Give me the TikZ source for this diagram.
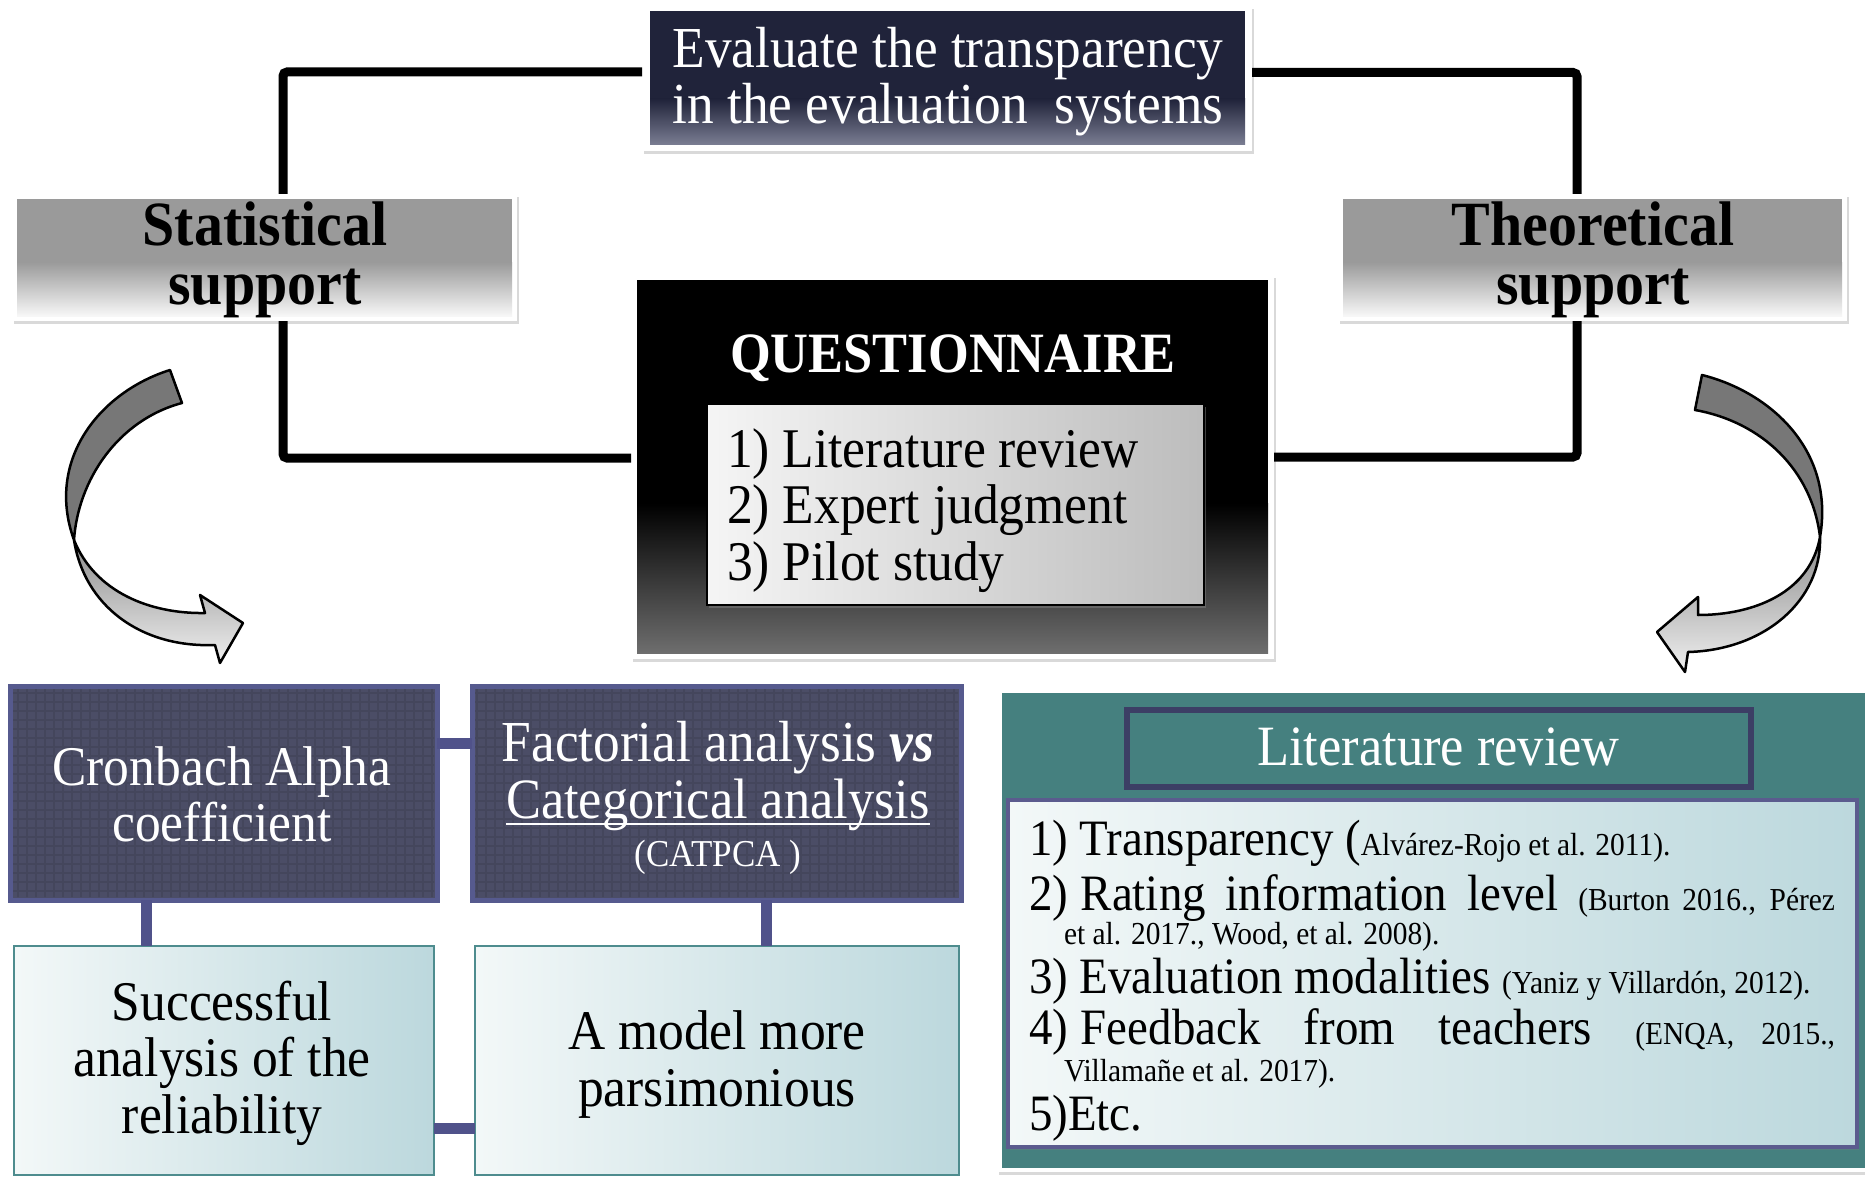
\documentclass[tikz,border=0pt]{standalone}
\usepackage{fontspec}
\setmainfont{Liberation Serif}[FakeStretch=0.92]
\usetikzlibrary{shadows}
\definecolor{evtop}{HTML}{20233A}
\definecolor{evbot}{HTML}{7B7E93}
\definecolor{statgray}{HTML}{9A9A9A}
\definecolor{slate}{HTML}{4B4D66}
\definecolor{slateborder}{HTML}{565A8E}
\definecolor{barc}{HTML}{50528A}
\definecolor{lightL}{HTML}{F3F8F8}
\definecolor{lightR}{HTML}{BCD8DD}
\definecolor{tealb}{HTML}{4E8C8E}
\definecolor{panelteal}{HTML}{45807F}
\definecolor{titleb}{HTML}{3C3E65}
\definecolor{listb}{HTML}{5B5B8E}
\definecolor{arrdark}{HTML}{777777}
\newcommand\fsz[2]{\fontsize{#1}{#2}\selectfont}
\newcommand\ctn[1]{{\fsz{32}{32}#1}}
\newcommand\mainf{\fsz{51}{51}}
\newcommand\fixsp{\hskip 0.25em\relax}
\begin{document}
\begin{tikzpicture}[x=1pt,y=-1pt,
  frame/.style={fill=white, inner sep=0pt, outer sep=0pt,
    drop shadow={shadow xshift=2pt, shadow yshift=-3pt, opacity=0.3}},
  conn/.style={line width=9pt, rounded corners=4pt},
  bar/.style={barc, line width=11pt},
  txt/.style={inner sep=0pt, outer sep=0pt},
  wtxt/.style={txt, text=white},
  darkbox/.style={fill=slate, draw=slateborder, line width=5pt, inner sep=0pt, outer sep=0pt,
    drop shadow={shadow xshift=2pt, shadow yshift=-3pt, opacity=0.3}},
  lightbox/.style={left color=lightL, right color=lightR, draw=tealb, line width=2pt, inner sep=0pt, outer sep=0pt},
  arrowline/.style={draw=black, line width=2.5pt, line join=round}
]
\useasboundingbox (0,0) rectangle (1865,1177);

% ---------- top box ----------
\node[frame, minimum width=610pt, minimum height=145pt] (ev) at (947,78.5) {};
\fill[evtop] (650,11) rectangle (1245,100);
\shade[top color=evtop, bottom color=evbot] (650,99) rectangle (1245,145);
\node[wtxt, anchor=base] (ev1) at (948,68) {\fsz{58}{58}Evaluate the transparency};
\node[wtxt, anchor=base] (ev2) at (948,124) {\fsz{58}{58}in the evaluation\ \ systems};

% ---------- statistical ----------
\node[frame, minimum width=505pt, minimum height=127pt] (stat) at (264.5,257.5) {};
\fill[statgray] (17,199) rectangle (512,263);
\shade[top color=statgray, bottom color=white!97!black] (17,262) rectangle (512,316);
\node[txt, anchor=base] (st1) at (265,245) {\fsz{63}{63}\bfseries Statistical};
\node[txt, anchor=base] (st2) at (265,304) {\fsz{63}{63}\bfseries support};

% ---------- theoretical ----------
\node[frame, minimum width=509pt, minimum height=127pt] (theo) at (1592.5,257.5) {};
\fill[statgray] (1343,199) rectangle (1842,263);
\shade[top color=statgray, bottom color=white!97!black] (1343,262) rectangle (1842,316);
\node[txt, anchor=base] (th1) at (1593,245) {\fsz{63}{63}\bfseries Theoretical};
\node[txt, anchor=base] (th2) at (1593,304) {\fsz{63}{63}\bfseries support};

% ---------- questionnaire ----------
\node[frame, minimum width=643pt, minimum height=384pt] (ques) at (952.5,467) {};
\fill[black] (637,280) rectangle (1268,504);
\shade[top color=black, bottom color=black!57] (637,503) rectangle (1268,653);
\node[wtxt, anchor=base] (qt) at (953,372) {\fsz{57}{57}\bfseries QUESTIONNAIRE};
\node[draw=black, line width=1.2pt, left color=white!96!black, right color=black!26,
  minimum width=497pt, minimum height=201pt, inner sep=0pt, outer sep=0pt,
  drop shadow={shadow xshift=2pt, shadow yshift=-3pt, opacity=0.5}] (qlist) at (955.5,504.5) {};
\node[txt, anchor=base west] (q1) at (727,467) {\fsz{56}{56}1) Literature review};
\node[txt, anchor=base west] (q2) at (727,523) {\fsz{56}{56}2) Expert judgment};
\node[txt, anchor=base west] (q3) at (727,580) {\fsz{56}{56}3) Pilot study};

% ---------- black connectors ----------
\draw[conn] ([yshift=6.5pt]ev.west) -| ([xshift=18.5pt]stat.north);
\draw[conn] ([xshift=18.5pt]stat.south) |- ([yshift=9pt]ques.west);
\draw[conn] ([yshift=6pt]ev.east) -| ([xshift=-15.5pt]theo.north);
\draw[conn] ([xshift=-15.5pt]theo.south) |- ([yshift=10pt]ques.east);

% ---------- curved arrows ----------
\filldraw[arrowline, fill=arrdark] (170,370) .. controls (100,392) and (45,460) .. (74,540)
  .. controls (78,480) and (118,420) .. (182,403) -- cycle;
\filldraw[arrowline, top color=black!45, bottom color=white!94!black] (74,540)
  .. controls (95,592) and (150,614) .. (205,613) -- (200,595) -- (243,623) -- (220,663) -- (215,645)
  .. controls (140,648) and (84,605) .. (74,540) -- cycle;
\filldraw[arrowline, fill=arrdark] (1702,375) .. controls (1770,392) and (1835,450) .. (1820,537)
  .. controls (1812,470) and (1762,422) .. (1695,410) -- cycle;
\filldraw[arrowline, top color=black!45, bottom color=white!94!black] (1820,537)
  .. controls (1810,592) and (1755,615) .. (1698,615) -- (1698,597) -- (1657,632) -- (1685,672) -- (1688,652)
  .. controls (1765,650) and (1822,600) .. (1820,537) -- cycle;

% ---------- bottom left boxes ----------
\node[darkbox, minimum width=427pt, minimum height=214pt] (cron) at (223.5,793) {};
\node[darkbox, minimum width=489pt, minimum height=214pt] (fact) at (716.5,793) {};
\begin{scope}
  \clip (13,689) rectangle (434,897) (475,689) rectangle (958,897);
  \draw[black, opacity=0.09, line width=2pt, step=9pt] (0,680) grid (970,905);
\end{scope}
\node[wtxt, anchor=base] (cr1) at (222,785) {\fsz{56}{56}Cronbach Alpha};
\node[wtxt, anchor=base] (cr2) at (222,841) {\fsz{56}{56}coefficient};
\node[wtxt, anchor=base] (fa1) at (718,761) {\fsz{58}{58}Factorial analysis \textbf{\textit{vs}}};
\node[wtxt, anchor=base] (fa2) at (718,818) {\fsz{57}{57}Categorical analysis};
\draw[white, line width=2.5pt] ([yshift=-6pt]fa2.base west) -- ([yshift=-6pt]fa2.base east);
\node[wtxt, anchor=base] (fa3) at (718,866) {\fsz{38}{38}(CATPCA )};

\node[lightbox, minimum width=420pt, minimum height=229pt] (succ) at (223.5,1060.5) {};
\node[lightbox, minimum width=484pt, minimum height=229pt] (model) at (716.5,1060.5) {};
\node[txt, anchor=base] (su1) at (222,1020) {\fsz{56}{56}Successful};
\node[txt, anchor=base] (su2) at (222,1076) {\fsz{56}{56}analysis of the};
\node[txt, anchor=base] (su3) at (222,1133) {\fsz{56}{56}reliability};
\node[txt, anchor=base] (mo1) at (717,1049) {\fsz{56}{56}A model more};
\node[txt, anchor=base] (mo2) at (717,1106) {\fsz{56}{56}parsimonious};

\draw[bar] ([yshift=50pt]cron.east) -- ([yshift=50pt]fact.west);
\draw[bar] ([xshift=-77.5pt]cron.south) -- ([xshift=-77.5pt]succ.north);
\draw[bar] ([xshift=49.5pt]fact.south) -- ([xshift=49.5pt]model.north);
\draw[bar] ([yshift=-67.5pt]succ.east) -- ([yshift=-67.5pt]model.west);

% ---------- literature review panel ----------
\node[frame, minimum width=875pt, minimum height=481pt] (lit) at (1434.5,931.5) {};
\fill[panelteal] (1002,693) rectangle (1872,1168);
\node[fill=panelteal, draw=titleb, line width=6pt, minimum width=624pt, minimum height=77pt,
  inner sep=0pt, outer sep=0pt, drop shadow={shadow xshift=2pt, shadow yshift=-3pt, opacity=0.3}] (lt) at (1438.5,748) {};
\node[wtxt, anchor=base] (ltt) at (1438.5,765) {\fsz{57}{57}Literature review};
\node[left color=lightL, right color=lightR, draw=listb, line width=4pt, minimum width=849pt, minimum height=347pt,
  inner sep=0pt, outer sep=0pt, drop shadow={shadow xshift=2pt, shadow yshift=-3pt, opacity=0.3}] (ll) at (1432.5,973.5) {};
\node[txt, anchor=base west] (l1) at (1029,855) {\mainf 1) Transparency (\ctn{Alvárez-Rojo et al. 2011).}};
\node[txt, anchor=base west] (l2) at (1029,910) {\makebox[806pt][s]{\mainf 2)\fixsp Rating information level \ctn{(Burton 2016., Pérez}}};
\node[txt, anchor=base west] (l2b) at (1064,944) {\ctn{et al. 2017., Wood, et al. 2008).}};
\node[txt, anchor=base west] (l3) at (1029,993) {\mainf 3) Evaluation modalities \ctn{(Yaniz y Villardón, 2012).}};
\node[txt, anchor=base west] (l4) at (1029,1044) {\makebox[806pt][s]{\mainf 4)\fixsp Feedback from teachers \ctn{(ENQA, 2015.,}}};
\node[txt, anchor=base west] (l4b) at (1064,1081) {\ctn{Villamañe et al. 2017).}};
\node[txt, anchor=base west] (l5) at (1029,1130) {\mainf 5)Etc.};
\end{tikzpicture}
\end{document}
